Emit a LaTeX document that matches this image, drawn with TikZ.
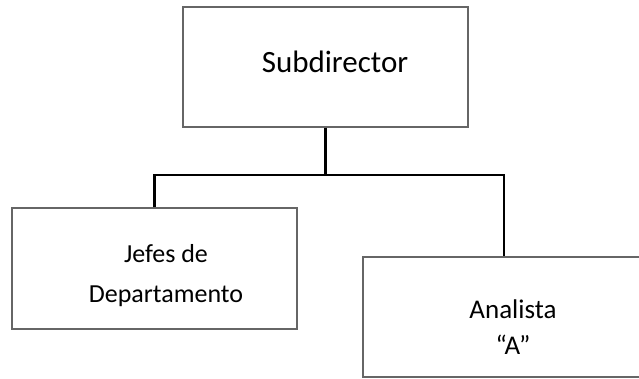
\documentclass[tikz,border=0pt]{standalone}
\usepackage{fontspec}
\setmainfont{Carlito}
\usetikzlibrary{positioning}
\begin{document}
\begin{tikzpicture}[x=1pt,y=-1pt,line cap=butt,line join=miter]
	\tikzset{caja/.style={draw=black!60,line width=1.2pt,inner sep=0pt},
		texto/.style={anchor=base,align=center,inner sep=0pt},
		enlace/.style={line width=2.8pt,black}}
	\useasboundingbox (0,0) rectangle (639,379);
	\clip (0,0) rectangle (639,379);
	% cajas
	\node[caja,minimum width=285,minimum height=120] (sub) at (325.5,67) {};
	\node[caja,minimum width=285,minimum height=121] (jefes) at (154.5,268.5) {};
	\node[caja,minimum width=282,minimum height=120] (ana) at (504,317) {};
	% textos (anclados en la linea base de la ultima linea)
	\node[texto,font=\fontsize{31}{37}\selectfont] (t-sub) at (335,73) {Subdirector};
	\node[texto,font=\fontsize{26}{40}\selectfont] (t-jefes) at (166,302) {Jefes de\\Departamento};
	\node[texto,font=\fontsize{27}{36}\selectfont] (t-ana) at (513,354) {Analista\\``A''};
	% enlaces
	\coordinate (barra) at (sub.south |- 0,175);
	\draw[enlace] (sub.south)--(barra);
	\draw[enlace] (jefes.north)|-(barra)-|(ana.north);
\end{tikzpicture}
\end{document}
